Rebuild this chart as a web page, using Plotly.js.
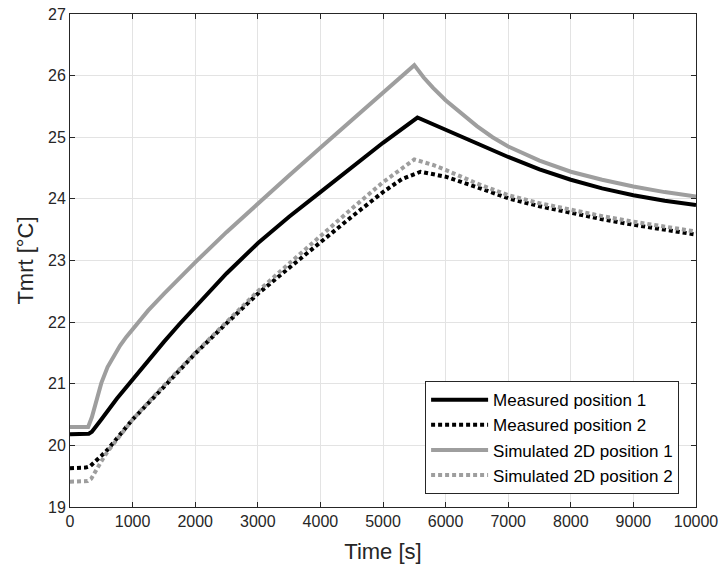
<!DOCTYPE html>
<html>
<head>
<meta charset="utf-8">
<script src="https://cdn.plot.ly/plotly-3.0.1.min.js"></script>
<style>html,body{margin:0;padding:0;background:#fff;}#chart{width:724px;height:575px;}</style>
</head>
<body>
<div id="chart"></div>
<script>
// Measured position 1 (black solid)
const tMeas1 = [0, 200, 300, 350, 400, 500, 750, 1000, 1250, 1500, 1750, 2000, 2500, 3000, 3500, 4000, 4500, 5000, 5550, 5800, 6000, 6250, 6500, 7000, 7500, 8000, 8500, 9000, 9500, 10000];
const yMeas1 = [20.18, 20.18, 20.19, 20.22, 20.28, 20.42, 20.76, 21.07, 21.38, 21.68, 21.97, 22.25, 22.79, 23.28, 23.71, 24.11, 24.51, 24.91, 25.32, 25.21, 25.12, 25.01, 24.90, 24.68, 24.48, 24.31, 24.17, 24.06, 23.97, 23.90];
// Measured position 2 (black dotted)
const tMeas2 = [0, 250, 320, 400, 500, 600, 800, 1000, 1500, 2000, 2500, 3000, 3500, 4000, 4500, 5000, 5300, 5600, 6000, 6500, 7000, 7500, 8000, 8500, 9000, 9500, 10000];
const yMeas2 = [19.63, 19.64, 19.66, 19.73, 19.83, 19.93, 20.18, 20.42, 20.95, 21.49, 21.98, 22.46, 22.88, 23.30, 23.71, 24.11, 24.32, 24.44, 24.36, 24.19, 24.01, 23.88, 23.77, 23.67, 23.58, 23.50, 23.42];
// Simulated 2D position 1 (grey solid)
const tSim1 = [0, 290, 350, 400, 450, 500, 600, 700, 800, 900, 1000, 1250, 1500, 1750, 2000, 2500, 3000, 3500, 4000, 4500, 5000, 5500, 5650, 5800, 6000, 6250, 6500, 6750, 7000, 7500, 8000, 8500, 9000, 9500, 10000];
const ySim1 = [20.30, 20.30, 20.46, 20.66, 20.85, 21.01, 21.27, 21.46, 21.62, 21.76, 21.89, 22.19, 22.46, 22.72, 22.97, 23.46, 23.93, 24.38, 24.83, 25.28, 25.72, 26.17, 25.97, 25.80, 25.60, 25.38, 25.18, 25.00, 24.85, 24.62, 24.44, 24.31, 24.20, 24.11, 24.04];
// Simulated 2D position 2 (grey dotted)
const tSim2 = [0, 280, 340, 400, 500, 600, 800, 1000, 1500, 2000, 2500, 3000, 3500, 4000, 4500, 5000, 5500, 5800, 6000, 6500, 7000, 7500, 8000, 8500, 9000, 9500, 10000];
const ySim2 = [19.41, 19.42, 19.46, 19.57, 19.74, 19.90, 20.17, 20.42, 20.97, 21.50, 22.00, 22.50, 22.95, 23.40, 23.84, 24.27, 24.64, 24.55, 24.47, 24.25, 24.06, 23.93, 23.82, 23.72, 23.63, 23.55, 23.47];

const names = ['Measured position 1', 'Measured position 2', 'Simulated 2D position 1', 'Simulated 2D position 2'];
const xTicks = [0, 1000, 2000, 3000, 4000, 5000, 6000, 7000, 8000, 9000, 10000];
const yTicks = [19, 20, 21, 22, 23, 24, 25, 26, 27];

const black = '#000000';
const grey = 'rgb(158,158,158)';
const txt = '#262626';
const font = 'Liberation Sans, Arial, Helvetica, sans-serif';

const traces = [
  {x: tMeas1, y: yMeas1, name: names[0], mode: 'lines', line: {color: black, width: 4}},
  {x: tMeas2, y: yMeas2, name: names[1], mode: 'lines', line: {color: black, width: 4, dash: '4px,3px'}},
  {x: tSim1, y: ySim1, name: names[2], mode: 'lines', line: {color: grey, width: 4}},
  {x: tSim2, y: ySim2, name: names[3], mode: 'lines', line: {color: grey, width: 4, dash: '4px,3px'}}
];

const axisCommon = {
  showline: true, linecolor: txt, linewidth: 1, mirror: 'ticks',
  ticks: 'inside', ticklen: 5, tickcolor: txt,
  showgrid: true, gridcolor: '#e3e3e3', gridwidth: 1,
  zeroline: false,
  tickfont: {family: font, size: 16, color: txt}
};

const layout = {
  width: 724, height: 575,
  margin: {l: 70, r: 28, t: 14, b: 68},
  paper_bgcolor: '#ffffff', plot_bgcolor: '#ffffff',
  showlegend: true,
  xaxis: Object.assign({}, axisCommon, {
    range: [0, 10000], tickvals: xTicks, ticktext: xTicks.map(String),
    title: {text: 'Time [s]', font: {family: font, size: 22, color: txt}, standoff: 14}
  }),
  yaxis: Object.assign({}, axisCommon, {
    range: [19, 27], tickvals: yTicks, ticktext: yTicks.map(String),
    title: {text: 'Tmrt [°C]', font: {family: font, size: 22, color: txt}, standoff: 8}
  }),
  legend: {
    x: 0.973, y: 0.026, xanchor: 'right', yanchor: 'bottom',
    bgcolor: '#ffffff', bordercolor: txt, borderwidth: 1,
    font: {family: font, size: 17, color: '#000'},
    itemwidth: 57, tracegroupgap: 0
  }
};

Plotly.newPlot('chart', traces, layout, {displayModeBar: false, staticPlot: true});
</script>
</body>
</html>
